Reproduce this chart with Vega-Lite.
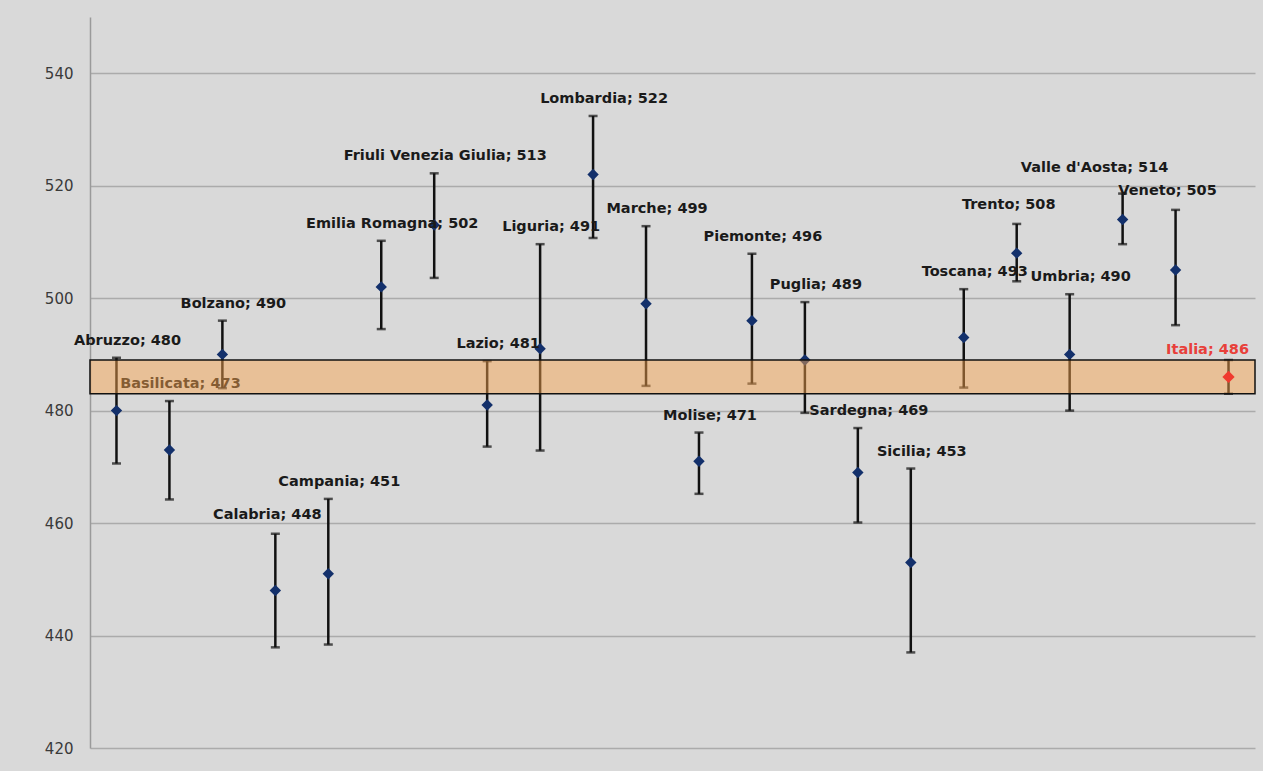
{
  "$schema": "https://vega.github.io/schema/vega-lite/v6.json",
  "width": 1165,
  "height": 731,
  "autosize": {"type": "none"},
  "padding": {"left": 90, "top": 17, "right": 8, "bottom": 23},
  "background": "#d9d9d9",
  "config": {"view": {"stroke": null, "fill": "#d9d9d9"}, "font": "DejaVu Sans"},
  "data": {"values": [
    {"region": "Abruzzo", "score": 480, "lower": 470.6, "upper": 489.4},
    {"region": "Basilicata", "score": 473, "lower": 464.2, "upper": 481.7},
    {"region": "Bolzano", "score": 490, "lower": 484, "upper": 496},
    {"region": "Calabria", "score": 448, "lower": 437.9, "upper": 458.1},
    {"region": "Campania", "score": 451, "lower": 438.4, "upper": 464.3},
    {"region": "Emilia Romagna", "score": 502, "lower": 494.5, "upper": 510.2},
    {"region": "Friuli Venezia Giulia", "score": 513, "lower": 503.6, "upper": 522.2},
    {"region": "Lazio", "score": 481, "lower": 473.6, "upper": 488.8},
    {"region": "Liguria", "score": 491, "lower": 472.9, "upper": 509.6},
    {"region": "Lombardia", "score": 522, "lower": 510.7, "upper": 532.4},
    {"region": "Marche", "score": 499, "lower": 484.4, "upper": 512.8},
    {"region": "Molise", "score": 471, "lower": 465.2, "upper": 476.1},
    {"region": "Piemonte", "score": 496, "lower": 484.8, "upper": 507.9},
    {"region": "Puglia", "score": 489, "lower": 479.6, "upper": 499.3},
    {"region": "Sardegna", "score": 469, "lower": 460.1, "upper": 476.9},
    {"region": "Sicilia", "score": 453, "lower": 437, "upper": 469.7},
    {"region": "Toscana", "score": 493, "lower": 484.1, "upper": 501.6},
    {"region": "Trento", "score": 508, "lower": 503, "upper": 513.2},
    {"region": "Umbria", "score": 490, "lower": 480, "upper": 500.7},
    {"region": "Valle d'Aosta", "score": 514, "lower": 509.6, "upper": 518.6},
    {"region": "Veneto", "score": 505, "lower": 495.2, "upper": 515.7},
    {"region": "Italia", "score": 486, "lower": 483, "upper": 489}
  ]},
  "transform": [{"calculate": "datum.region + '; ' + datum.score", "as": "label"}],
  "layer": [
    {
      "mark": {"type": "rule", "color": "#111111", "strokeWidth": 2.5},
      "encoding": {
        "x": {"field": "region", "type": "nominal", "sort": null, "scale": {"paddingInner": 0, "paddingOuter": 0}, "axis": null},
        "y": {"field": "lower", "type": "quantitative", "scale": {"domain": [420, 550], "nice": false, "zero": false},
          "axis": {"title": null, "values": [420, 440, 460, 480, 500, 520, 540], "grid": true, "gridColor": "#ababab", "gridWidth": 1.5, "domainColor": "#9a9a9a", "domainWidth": 1.5, "ticks": false, "labelFont": "DejaVu Sans", "labelFontSize": 15, "labelColor": "#3a3a3a", "labelPadding": 17}},
        "y2": {"field": "upper"}
      }
    },
    {
      "mark": {"type": "tick", "orient": "horizontal", "color": "#111111", "thickness": 2.5, "size": 9},
      "encoding": {
        "x": {"field": "region", "type": "nominal", "sort": null},
        "y": {"field": "upper", "type": "quantitative"}
      }
    },
    {
      "mark": {"type": "tick", "orient": "horizontal", "color": "#111111", "thickness": 2.5, "size": 9},
      "encoding": {
        "x": {"field": "region", "type": "nominal", "sort": null},
        "y": {"field": "lower", "type": "quantitative"}
      }
    },
    {
      "transform": [{"filter": "datum.region != 'Italia'"}],
      "mark": {"type": "point", "shape": "diamond", "filled": true, "color": "#13306b", "opacity": 1, "size": 130},
      "encoding": {
        "x": {"field": "region", "type": "nominal", "sort": null},
        "y": {"field": "score", "type": "quantitative"}
      }
    },
    {
      "transform": [{"filter": "indexof(['Calabria','Trento','Veneto','Valle d\\'Aosta','Italia'], datum.region) < 0"}],
      "mark": {"type": "text", "font": "DejaVu Sans", "fontWeight": "bold", "fontSize": 14.5, "color": "#1a1a1a", "dx": 11, "dy": -17, "baseline": "middle"},
      "encoding": {
        "x": {"field": "region", "type": "nominal", "sort": null},
        "y": {"field": "upper", "type": "quantitative"},
        "text": {"field": "label"}
      }
    },
    {
      "transform": [{"filter": "indexof(['Calabria','Trento','Veneto'], datum.region) >= 0"}],
      "mark": {"type": "text", "font": "DejaVu Sans", "fontWeight": "bold", "fontSize": 14.5, "color": "#1a1a1a", "dx": -8, "dy": -19, "baseline": "middle"},
      "encoding": {
        "x": {"field": "region", "type": "nominal", "sort": null},
        "y": {"field": "upper", "type": "quantitative"},
        "text": {"field": "label"}
      }
    },
    {
      "transform": [{"filter": "datum.region == 'Valle d\\'Aosta'"}],
      "mark": {"type": "text", "font": "DejaVu Sans", "fontWeight": "bold", "fontSize": 14.5, "color": "#1a1a1a", "dx": -28, "dy": -26, "baseline": "middle"},
      "encoding": {
        "x": {"field": "region", "type": "nominal", "sort": null},
        "y": {"field": "upper", "type": "quantitative"},
        "text": {"field": "label"}
      }
    },
    {
      "transform": [{"filter": "datum.region == 'Italia'"}],
      "mark": {"type": "rect", "fill": "#f9a650", "fillOpacity": 0.48, "stroke": "#111111", "strokeWidth": 1.5, "strokeOpacity": 1},
      "encoding": {
        "y": {"field": "upper", "type": "quantitative"},
        "y2": {"field": "lower"}
      }
    },
    {
      "transform": [{"filter": "datum.region == 'Italia'"}],
      "mark": {"type": "point", "shape": "diamond", "filled": true, "color": "#f03a2e", "opacity": 1, "size": 150},
      "encoding": {
        "x": {"field": "region", "type": "nominal", "sort": null},
        "y": {"field": "score", "type": "quantitative"}
      }
    },
    {
      "transform": [{"filter": "datum.region == 'Italia'"}],
      "mark": {"type": "text", "font": "DejaVu Sans", "fontWeight": "bold", "fontSize": 14.5, "color": "#e8403a", "dx": -21, "dy": -10, "baseline": "middle"},
      "encoding": {
        "x": {"field": "region", "type": "nominal", "sort": null},
        "y": {"field": "upper", "type": "quantitative"},
        "text": {"field": "label"}
      }
    }
  ]
}
